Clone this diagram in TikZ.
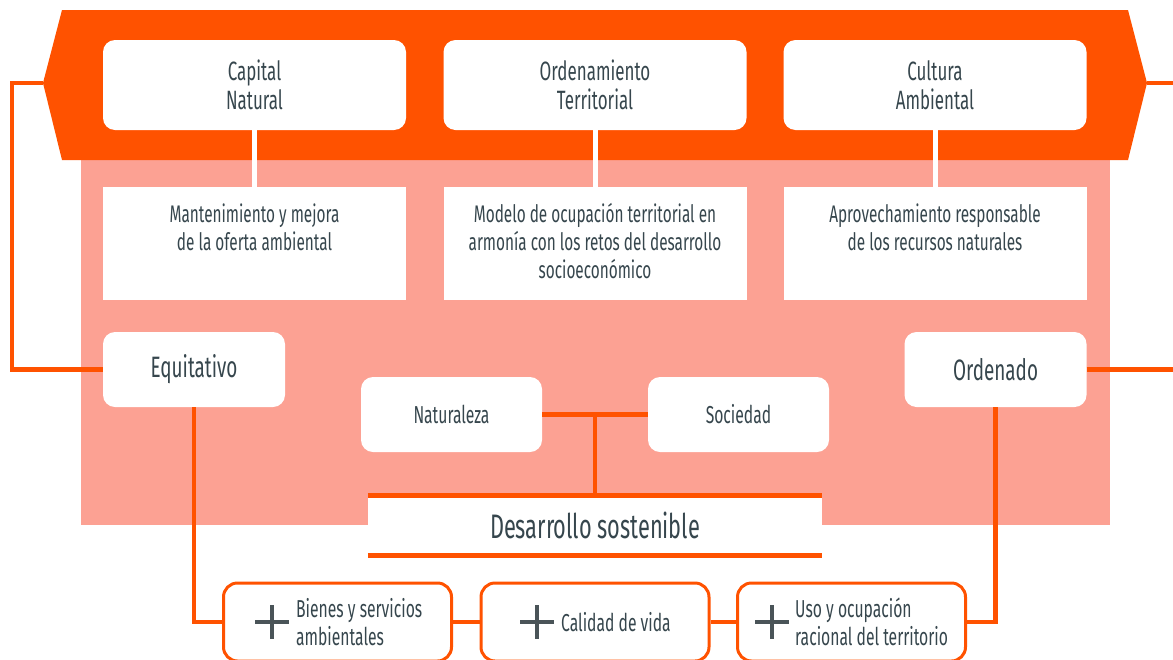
\documentclass[tikz,border=0pt]{standalone}
\usepackage{fontspec}
\setmainfont{Fira Sans}[FakeStretch=0.64]
\usetikzlibrary{calc}
\definecolor{org}{HTML}{FF5200}
\definecolor{sal}{HTML}{FCA193}
\definecolor{txt}{HTML}{36464D}
\definecolor{plusc}{HTML}{4A5458}
\begin{document}
\begin{tikzpicture}[x=1pt,y=-1pt,
  topbox/.style={fill=white, rounded corners=12pt, minimum width=303pt, minimum height=90pt, inner sep=0pt, align=center, text=txt, font=\fontsize{26.5}{29}\selectfont},
  descbox/.style={fill=white, minimum width=303pt, minimum height=113pt, inner sep=0pt},
  desctext/.style={anchor=north, inner sep=0pt, align=center, text=txt, font=\fontsize{24}{28}\selectfont},
  midbox/.style={fill=white, rounded corners=12pt, minimum width=182pt, minimum height=75pt, inner sep=0pt, text=txt, font=\fontsize{29.5}{32}\selectfont},
  smallbox/.style={fill=white, rounded corners=12pt, minimum width=181pt, minimum height=75pt, inner sep=0pt, text=txt, font=\fontsize{24.5}{28}\selectfont},
  botbox/.style={draw=org, line width=3pt, fill=white, rounded corners=14pt, minimum width=228pt, minimum height=78pt, inner sep=0pt},
  bottext/.style={anchor=west, inner sep=0pt, align=left, text=txt, font=\fontsize{24.5}{28}\selectfont},
  conn/.style={draw=org, line width=4.5pt},
  plusline/.style={draw=plusc, line width=4pt}
]
\useasboundingbox (0,0) rectangle (1173,659);
\clip (0,0) rectangle (1173,659);

% salmon background and banner
\fill[sal] (81,158) rectangle (1110,525);
\fill[org] (62,10) -- (1128,10) -- (1147,83) -- (1128,160) -- (62,160) -- (43,83) -- cycle;

% top boxes
\node[topbox] (cap) at (254.5,85) {Capital\\Natural};
\node[topbox] (ord1) at (595,85) {Ordenamiento\\Territorial};
\node[topbox] (cul) at (935,85) {Cultura\\Ambiental};

% description boxes
\node[descbox] (mant) at (254.5,243.5) {};
\node[descbox] (mod) at (595,243.5) {};
\node[descbox] (apr) at (935,243.5) {};
\node[desctext] (mantt) at ($(mant.north)+(0,17)$) {Mantenimiento y mejora\\de la oferta ambiental};
\node[desctext] (modt) at ($(mod.north)+(0,16)$) {Modelo de ocupación territorial en\\armonía con los retos del desarrollo\\socioeconómico};
\node[desctext] (aprt) at ($(apr.north)+(0,17)$) {Aprovechamiento responsable\\de los recursos naturales};

\draw[white, line width=5pt] (cap.south) -- (mant.north);
\draw[white, line width=5pt] (ord1.south) -- (mod.north);
\draw[white, line width=5pt] (cul.south) -- (apr.north);

% middle boxes
\node[midbox] (eq) at (194,369.5) {Equitativo};
\node[midbox] (ordn) at (995.5,369.5) {Ordenado};
\node[smallbox] (nat) at (451.5,414.5) {Naturaleza};
\node[smallbox] (soc) at (738.5,414.5) {Sociedad};

% desarrollo sostenible
\node[fill=white, minimum width=454pt, minimum height=60pt, inner sep=0pt, text=txt, font=\fontsize{34}{38}\selectfont] (des) at (595,525.5) {Desarrollo sostenible};
\draw[conn] (des.north west) -- (des.north east);
\draw[conn] (des.south west) -- (des.south east);

\coordinate (j) at ($(nat.east)!0.5!(soc.west)$);
\draw[conn] (nat.east) -- (soc.west);
\draw[conn] (j) -- (j |- des.north);

% outer connectors
\coordinate (bl) at (43,83);
\coordinate (lft) at (12,83);
\draw[conn] (bl) -- (lft) |- (eq.west);
\coordinate (br) at (1147,83);
\coordinate (redge) at (1176,83);
\draw[conn] (br) -- (redge);
\coordinate (redge2) at (1176,369.5);
\draw[conn] (ordn.east) -- (redge2);

% bottom boxes
\node[botbox] (bien) at (337.5,622) {};
\node[botbox] (cal) at (595,622) {};
\node[botbox] (uso) at (851.5,622) {};
\draw[conn] (eq.south) |- (bien.west);
\draw[conn] (ordn.south) |- (uso.east);
\draw[conn] (bien.east) -- (cal.west);
\draw[conn] (cal.east) -- (uso.west);

\node[bottext] (bient) at (296,622) {Bienes y servicios\\ambientales};
\node[bottext] (calt) at (561,622) {Calidad de vida};
\node[bottext] (usot) at (795,622) {Uso y ocupación\\racional del territorio};

\draw[plusline] (255,622) -- (289,622) (272,605) -- (272,639);
\draw[plusline] (520,622) -- (554,622) (537,605) -- (537,639);
\draw[plusline] (755,622) -- (789,622) (772,605) -- (772,639);
\end{tikzpicture}
\end{document}
